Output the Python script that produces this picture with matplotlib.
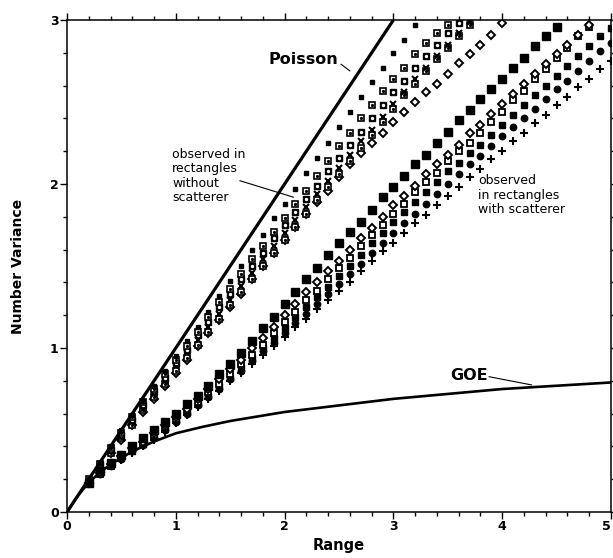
import numpy as np
import matplotlib.pyplot as plt
from matplotlib.ticker import MultipleLocator

# ---- ranges where the spectra were sampled ----
x_a = [round(0.2 + 0.1 * i, 1) for i in range(39)]   # 0.2 .. 4.0 (no scatterer)
x_b = [round(0.2 + 0.1 * i, 1) for i in range(49)]   # 0.2 .. 5.0 (with scatterer)

# rectangles without scatterer
a_small_sq = [.20, .30, .40, .50, .59, .68, .77, .86, .95, 1.04, 1.13, 1.22, 1.32, 1.41, 1.50, 1.60,
              1.69, 1.79, 1.88, 1.97, 2.07, 2.16, 2.25, 2.35, 2.44, 2.53, 2.62, 2.71, 2.80, 2.88, 2.97]
a_open_sq_hi = [.20, .29, .39, .48, .58, .67, .75, .84, .93, 1.01, 1.10, 1.19, 1.28, 1.36, 1.45, 1.54,
                1.62, 1.71, 1.79, 1.88, 1.96, 2.05, 2.14, 2.23, 2.31, 2.40, 2.48, 2.57, 2.64, 2.71,
                2.79, 2.86, 2.92, 2.97]
a_fill_sq = [.19, .29, .38, .47, .56, .65, .74, .82, .91, .99, 1.08, 1.16, 1.25, 1.33, 1.42, 1.50,
             1.58, 1.67, 1.75, 1.83, 1.91, 1.99, 2.08, 2.16, 2.24, 2.32, 2.40, 2.48, 2.56, 2.63,
             2.71, 2.78, 2.85, 2.92, 2.98]
a_cross = [.19, .28, .37, .46, .55, .63, .72, .80, .89, .97, 1.05, 1.13, 1.21, 1.29, 1.38, 1.46,
           1.54, 1.62, 1.70, 1.78, 1.86, 1.94, 2.02, 2.10, 2.18, 2.26, 2.33, 2.41, 2.49, 2.56,
           2.64, 2.71, 2.78, 2.85, 2.92, 2.99]
a_open_sq_lo = [.18, .27, .36, .45, .53, .62, .70, .78, .86, .94, 1.02, 1.10, 1.18, 1.26, 1.34, 1.42,
                1.50, 1.58, 1.66, 1.74, 1.82, 1.90, 1.98, 2.06, 2.14, 2.22, 2.30, 2.38, 2.46, 2.54,
                2.61, 2.69, 2.76, 2.83, 2.90, 2.97]
a_diamond = [.18, .27, .36, .44, .53, .61, .69, .77, .85, .93, 1.01, 1.09, 1.17, 1.25, 1.33, 1.42,
             1.50, 1.58, 1.66, 1.74, 1.82, 1.89, 1.96, 2.04, 2.12, 2.19, 2.25, 2.31, 2.38, 2.44,
             2.50, 2.56, 2.61, 2.67, 2.74, 2.79, 2.85, 2.91, 2.98]

# rectangles with scatterer
b_big_sq = [.18, .25, .30, .35, .40, .45, .50, .55, .60, .66, .71, .77, .84, .90, .97, 1.04,
            1.12, 1.19, 1.27, 1.34, 1.42, 1.49, 1.57, 1.64, 1.71, 1.77, 1.84, 1.92, 1.98, 2.05,
            2.12, 2.18, 2.25, 2.32, 2.39, 2.45, 2.52, 2.58, 2.64, 2.71, 2.77, 2.84, 2.90, 2.96]
b_diamond = [.18, .24, .29, .34, .39, .43, .48, .53, .58, .63, .69, .75, .81, .87, .93, 1.00,
             1.06, 1.13, 1.20, 1.27, 1.34, 1.40, 1.47, 1.53, 1.60, 1.67, 1.73, 1.80, 1.87, 1.93,
             1.99, 2.06, 2.12, 2.18, 2.24, 2.31, 2.36, 2.43, 2.49, 2.55, 2.61, 2.67, 2.73, 2.79,
             2.85, 2.91, 2.97]
b_open_sq = [.18, .23, .28, .33, .38, .42, .47, .52, .57, .62, .67, .73, .78, .84, .90, .96,
             1.02, 1.09, 1.16, 1.22, 1.29, 1.35, 1.42, 1.49, 1.55, 1.62, 1.69, 1.75, 1.82, 1.88,
             1.95, 2.01, 2.07, 2.14, 2.20, 2.25, 2.31, 2.38, 2.44, 2.51, 2.57, 2.64, 2.70, 2.77,
             2.83, 2.90, 2.96]
b_fill_sq = [.18, .235, .285, .33, .375, .415, .46, .51, .56, .61, .66, .71, .77, .82, .88, .94,
             1.00, 1.06, 1.12, 1.19, 1.25, 1.31, 1.37, 1.44, 1.50, 1.57, 1.64, 1.70, 1.77, 1.83,
             1.89, 1.95, 2.01, 2.08, 2.13, 2.19, 2.24, 2.30, 2.36, 2.42, 2.48, 2.54, 2.60, 2.66,
             2.72, 2.78, 2.84, 2.90, 2.95]
b_fill_dot = [.175, .23, .28, .325, .37, .41, .45, .50, .55, .60, .65, .70, .75, .81, .86, .92,
              .98, 1.03, 1.09, 1.15, 1.21, 1.27, 1.33, 1.39, 1.45, 1.51, 1.58, 1.64, 1.70, 1.76,
              1.82, 1.88, 1.94, 2.00, 2.06, 2.12, 2.17, 2.23, 2.29, 2.35, 2.40, 2.46, 2.52, 2.58,
              2.63, 2.69, 2.75, 2.81, 2.86]
b_plus = [.17, .23, .28, .32, .36, .40, .44, .49, .54, .59, .64, .69, .74, .80, .85, .90,
          .96, 1.01, 1.07, 1.13, 1.18, 1.24, 1.29, 1.35, 1.40, 1.47, 1.53, 1.59, 1.64, 1.70,
          1.76, 1.81, 1.87, 1.93, 1.98, 2.04, 2.09, 2.15, 2.20, 2.26, 2.31, 2.37, 2.42, 2.48,
          2.53, 2.59, 2.64, 2.70, 2.75]

# theory curves
poisson_x = [0, 3]
poisson_y = [0, 3]
goe_x = [0, 0.05, 0.1, 0.2, 0.3, 0.4, 0.5, 0.6, 0.8, 1.0, 1.25, 1.5, 2.0, 2.5, 3.0, 3.5, 4.0, 4.5, 5.0]
goe_y = [0, 0.05, 0.10, 0.18, 0.24, 0.29, 0.33, 0.37, 0.43, 0.48, 0.52, 0.555, 0.61, 0.65, 0.69,
         0.72, 0.75, 0.77, 0.79]
x_ticks = [0, 1, 2, 3, 4, 5]
y_ticks = [0, 1, 2, 3]

fig = plt.figure(figsize=(6.13, 5.58), dpi=100)
ax = fig.add_axes([0.1093, 0.0824, 0.8874, 0.8817])

K = "black"
def pts(xs, ys, **kw):
    ax.plot(xs[:len(ys)], ys, linestyle="none", **kw)

# without scatterer
pts(x_a, a_diamond, marker="D", ms=4.0, mfc="white", mec=K, mew=1.4)
pts(x_a, a_open_sq_lo, marker="s", ms=4.5, mfc="white", mec=K, mew=1.2)
pts(x_a, a_open_sq_lo, marker="o", ms=1.3, mfc=K, mec=K)
pts(x_a, a_cross, marker="x", ms=4.2, mec=K, mew=1.5)
pts(x_a, a_fill_sq, marker="s", ms=4.5, mfc=K, mec=K)
pts(x_a, a_fill_sq, marker="o", ms=1.4, mfc="white", mec="white")
pts(x_a, a_open_sq_hi, marker="s", ms=4.5, mfc="white", mec=K, mew=1.2)
pts(x_a, a_open_sq_hi, marker="o", ms=1.3, mfc=K, mec=K)
pts(x_a, a_small_sq, marker="s", ms=3.0, mfc=K, mec=K)

# with scatterer
pts(x_b, b_plus, marker="+", ms=6, mec=K, mew=1.5)
pts(x_b, b_fill_dot, marker="o", ms=4.6, mfc=K, mec=K)
pts(x_b, b_fill_sq, marker="s", ms=4.8, mfc=K, mec=K)
pts(x_b, b_open_sq, marker="s", ms=4.8, mfc="white", mec=K, mew=1.3)
pts(x_b, b_diamond, marker="D", ms=4.0, mfc="white", mec=K, mew=1.4)
pts(x_b, b_big_sq, marker="s", ms=5.8, mfc=K, mec=K)

ax.plot(poisson_x, poisson_y, color=K, lw=2.3, solid_capstyle="butt")
ax.plot(goe_x, goe_y, color=K, lw=1.9)

# labels on the plot
ax.text(1.85, 2.76, "Poisson", fontsize=11.5, fontweight="bold", va="center", ha="left")
ax.plot([2.52, 2.60], [2.73, 2.69], color=K, lw=0.8)
ax.text(3.52, 0.835, "GOE", fontsize=11.5, fontweight="bold", va="center", ha="left")
ax.plot([3.88, 4.27], [0.825, 0.775], color=K, lw=0.8)
ax.text(0.965, 2.22, "observed in\nrectangles\nwithout\nscatterer", fontsize=9, va="top",
        ha="left", linespacing=1.15)
ax.plot([1.59, 2.08], [2.02, 1.92], color=K, lw=0.8)
ax.text(3.78, 2.06, "observed\nin rectangles\nwith scatterer", fontsize=9, va="top",
        ha="left", linespacing=1.15)

ax.set_xlim(0, 5)
ax.set_ylim(0, 3)
ax.set_xticks(x_ticks, [str(v) for v in x_ticks], fontweight="bold")
ax.set_yticks(y_ticks, [str(v) for v in y_ticks], fontweight="bold")
ax.xaxis.set_minor_locator(MultipleLocator(0.2))
ax.yaxis.set_minor_locator(MultipleLocator(0.2))
ax.tick_params(which="both", direction="out", top=True, right=True, width=1, colors=K)
ax.tick_params(which="major", length=5, labelsize=9, pad=1)
ax.tick_params(which="minor", length=3)
# the last x label sits at the right edge of the figure; keep it inside
ax.xaxis.get_major_ticks()[-1].label1.set_horizontalalignment("right")
for sp in ax.spines.values():
    sp.set_linewidth(1.1)

ax.set_xlabel("Range", fontsize=10.5, fontweight="bold", labelpad=3)
ax.set_ylabel("Number Variance", fontsize=10, fontweight="bold", labelpad=18)

fig.savefig("out.png", dpi=100)
